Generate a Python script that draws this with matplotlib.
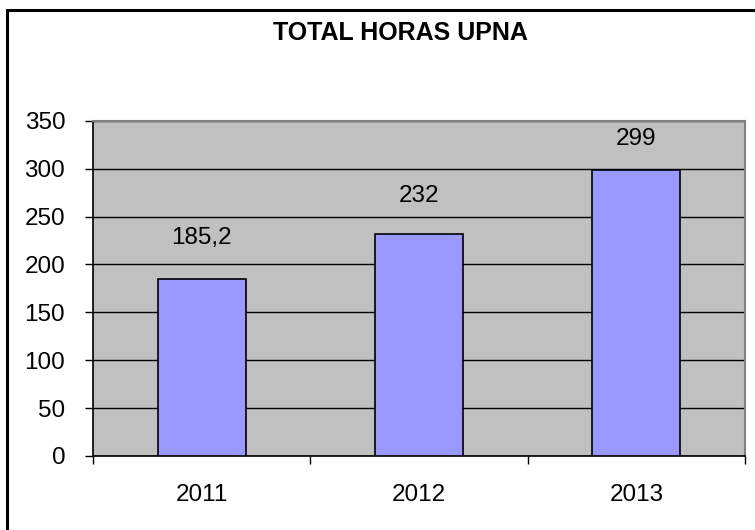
#!/usr/bin/env python3

import numpy as np
import matplotlib.pyplot as plt
from matplotlib.patches import Rectangle

OUT = 'out.png'

years  = ['2011', '2012', '2013']
horas  = [185.2, 232, 299]
labels = ['185,2', '232', '299']
yticks = [0, 50, 100, 150, 200, 250, 300, 350]

# label offsets above bar tops, in pixels (as placed in the original)
label_offsets = [41, 38, 31]

plt.rcParams['font.family'] = ['Liberation Sans', 'DejaVu Sans']

fig = plt.figure(figsize=(7.55, 5.30), dpi=100)
ax = fig.add_axes([93/755, 1 - 456/530, (745 - 93)/755, (456 - 120.7)/530])

# outer frame of the chart (right and bottom edges cropped off)
fig.patches.append(Rectangle((7/755, -0.1), 1.2, 1.1 - 10/530, transform=fig.transFigure,
	fill=False, edgecolor='black', linewidth=2.2, zorder=0))

ax.set_facecolor('#c0c0c0')
x = np.arange(len(years))
ax.bar(x, horas, width=0.405, color='#9999ff', edgecolor='black', linewidth=1.2, zorder=3)

ax.set_xlim(-0.5, len(years) - 0.5)
ax.set_ylim(0, 350)
ax.set_yticks(yticks)
ax.yaxis.grid(True, color='black', linewidth=1.0, zorder=1)
ax.set_axisbelow(True)

ax.set_xticks(np.arange(len(years) + 1) - 0.5)
ax.set_xticklabels([])
ax.set_xticks(x, minor=True)
ax.set_xticklabels(years, minor=True)
ax.tick_params(axis='x', which='major', direction='out', length=6, width=1, color='black')
ax.tick_params(axis='x', which='minor', length=0, pad=20, labelsize=17.5)
ax.tick_params(axis='y', direction='out', length=6, width=1, pad=14, labelsize=17.5)

for side in ['top', 'right']:
	ax.spines[side].set_color('#808080')
	ax.spines[side].set_linewidth(1.5)
for side in ['left', 'bottom']:
	ax.spines[side].set_color('black')
	ax.spines[side].set_linewidth(1.2)

for xi, v, lab, off in zip(x, horas, labels, label_offsets):
	ax.annotate(lab, xy=(xi, v), xytext=(0, off * 72 / 100), textcoords='offset points',
		ha='center', va='center', fontsize=17.5, zorder=4)

fig.text(400.5/755, 1 - 33/530, 'TOTAL HORAS UPNA', ha='center', va='center',
	fontsize=18, fontweight='bold')

plt.savefig(OUT, dpi=100)
